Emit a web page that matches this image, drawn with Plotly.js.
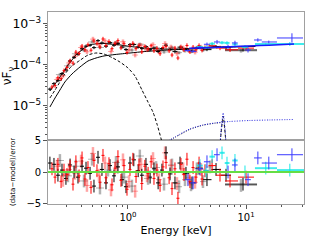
<!DOCTYPE html>
<html><head><meta charset="utf-8">
<script src="https://cdn.plot.ly/plotly-3.0.1.min.js"></script>
<style>html,body{margin:0;padding:0;background:#fff;}#c{width:320px;height:240px;}</style>
</head><body><div id="c"></div>
<script>
// ---------------- data ----------------
const energyRange = [0.21, 31];
const fluxRange = [1.48e-6, 1.96e-3];
const resRange = [-5, 5];
const xTickVals = [1, 10];
const xTickText = ['10<sup>0</sup>', '10<sup>1</sup>'];

// black spectrum
const blackE = [0.218,0.236,0.255,0.276,0.298,0.323,0.349,0.377,0.408,0.441,0.477,0.515,0.557,0.602,0.651,0.704,0.761,0.822,0.889,0.962,1.04,1.12,1.22,1.31,1.42,1.54,1.66,1.80,1.94,2.10,2.27,2.50,2.76,3.10,3.49,4.00,4.67,5.57,6.77];
const blackF = [2.58e-5,3.51e-5,4.14e-5,6.17e-5,7.56e-5,1.25e-4,1.54e-4,1.83e-4,2.49e-4,2.88e-4,3.03e-4,2.65e-4,3.92e-4,3.45e-4,2.87e-4,3.51e-4,3.02e-4,3.31e-4,2.73e-4,2.37e-4,3.15e-4,3.17e-4,2.75e-4,2.51e-4,2.81e-4,2.36e-4,2.59e-4,2.13e-4,2.51e-4,3.04e-4,2.39e-4,2.12e-4,2.72e-4,2.41e-4,2.19e-4,2.70e-4,2.37e-4,2.80e-4,2.64e-4];
const blackRes = [1.4,1.2,-0.5,0.3,-1.0,1.1,0.0,-0.8,0.9,0.6,-0.2,-2.2,2.3,0.4,-1.7,1.0,-0.6,0.8,-1.2,-2.3,1.4,1.9,0.2,-0.5,1.2,-0.8,0.5,-1.7,0.3,3.0,-0.3,-1.7,1.4,-0.2,-1.7,0.6,-1.2,0.4,-0.5];
const blackRelErr = 0.09;
const blackWideE = [9.43], blackWideLo = [6.64], blackWideHi = [12.4], blackWideF = [2.32e-4], blackWideRes = [-1.9];

// red spectrum
const redE = [0.227,0.241,0.255,0.271,0.287,0.304,0.323,0.342,0.362,0.385,0.408,0.432,0.458,0.486,0.515,0.546,0.579,0.614,0.651,0.690,0.732,0.776,0.822,0.872,0.925,0.981,1.04,1.10,1.17,1.24,1.31,1.39,1.48,1.57,1.66,1.76,1.87,1.98,2.10,2.23,2.36,2.50,2.65,2.81,2.98,3.16,3.35,3.56,3.77,4.00,4.24,4.49,5.16,6.02,7.32,10.0];
const redF = [2.90e-5,3.14e-5,4.88e-5,4.63e-5,7.25e-5,8.70e-5,1.26e-4,1.11e-4,2.06e-4,1.91e-4,2.88e-4,2.35e-4,3.12e-4,2.29e-4,3.85e-4,3.37e-4,2.75e-4,4.30e-4,2.99e-4,3.74e-4,2.50e-4,3.37e-4,3.93e-4,2.61e-4,3.30e-4,2.02e-4,2.95e-4,3.38e-4,2.51e-4,3.02e-4,2.09e-4,2.82e-4,2.47e-4,2.94e-4,2.22e-4,2.54e-4,1.88e-4,2.67e-4,2.85e-4,2.21e-4,1.75e-4,2.58e-4,1.48e-4,2.77e-4,2.34e-4,2.99e-4,2.10e-4,2.72e-4,2.33e-4,2.98e-4,2.29e-4,2.66e-4,2.95e-4,2.60e-4,2.35e-4,2.58e-4];
const redRes = [0.5,-0.8,1.2,-1.5,0.3,-0.4,0.9,-1.9,1.6,-0.6,2.2,-1.1,0.7,-2.4,1.8,0.2,-1.6,2.6,-0.9,1.3,-2.0,0.6,2.4,-1.3,1.0,-2.7,0.4,2.0,-0.7,1.1,-1.8,0.9,-0.2,1.6,-1.0,0.3,-2.1,0.8,1.5,-0.9,-2.6,0.5,-4.1,1.2,-0.4,2.0,-1.5,0.7,-0.8,1.4,-1.1,0.2,1.0,-0.5,-1.4,-0.8];
const redRelErr = 0.13;

// light red spectrum
const pinkE = [0.250,0.281,0.316,0.356,0.400,0.449,0.505,0.568,0.638,0.718,0.807,0.907,1.02,1.15,1.29,1.45,1.63,1.83,2.06,2.31,2.60,2.93,3.29,3.70,4.15];
const pinkF = [4.43e-5,5.48e-5,1.12e-4,1.62e-4,2.67e-4,2.10e-4,4.27e-4,3.12e-4,3.90e-4,2.14e-4,3.42e-4,3.68e-4,2.34e-4,1.75e-4,3.01e-4,2.35e-4,3.12e-4,2.10e-4,3.33e-4,2.74e-4,1.92e-4,2.60e-4,2.23e-4,2.06e-4,2.72e-4];
const pinkRes = [0.9,-1.3,0.4,-0.2,1.7,-2.1,2.9,-0.5,1.4,-2.8,0.8,1.9,-1.5,-3.0,1.2,-0.6,2.1,-1.2,3.0,1.0,-1.8,0.5,-0.9,-1.6,0.4];
const pinkRelErr = 0.14;

// grey spectrum
const greyE = [0.265,0.310,0.362,0.424,0.496,0.579,0.677,0.791,0.925,1.08,1.26,1.48,1.73,2.02,2.36,2.71,3.04,3.42,3.84,4.32,4.95];
const greyF = [5.83e-5,9.52e-5,1.88e-4,2.27e-4,3.64e-4,2.67e-4,3.38e-4,3.52e-4,2.78e-4,2.31e-4,3.20e-4,2.33e-4,2.62e-4,2.08e-4,2.67e-4,2.00e-4,2.21e-4,2.12e-4,2.66e-4,2.29e-4,2.81e-4];
const greyRes = [1.8,-0.6,0.9,-1.4,2.0,-2.5,0.3,1.5,-0.8,-2.2,2.5,-1.0,0.7,-1.9,1.1,-2.3,-1.2,-2.0,0.5,-1.5,0.8];
const greyRelErr = 0.1;
const greyWideE = [9.07], greyWideLo = [6.64], greyWideHi = [12.4], greyWideF = [2.2e-4], greyWideRes = [-2.1];

// blue spectrum
const blueE  = [3.22,3.56,4.07,4.67,5.68,7.04,8.06,10.4,12.6,15.6,24.5];
const blueLo = [3.02,3.37,3.80,4.40,5.35,6.64,7.60,9.80,11.7,13.6,18.3];
const blueHi = [3.40,3.80,4.35,4.95,6.00,7.40,8.50,11.0,13.6,18.3,30.4];
const blueF  = [2.25e-4,2.15e-4,2.65e-4,3.2e-4,3.64e-4,2.8e-4,3.45e-4,2.32e-4,4.07e-4,3.64e-4,4.56e-4];
const blueRelErr = [0.08,0.08,0.1,0.1,0.12,0.12,0.13,0.15,0.1,0.08,0.3];
const blueRes = [-1.2,-1.7,0.5,1.6,2.7,0.0,1.1,-1.2,2.2,1.4,2.7];

// cyan spectrum
const cyanE  = [4.07,4.58,5.16,6.26,6.90,8.06,9.80,14.7,23.5];
const cyanLo = [3.85,4.35,4.90,5.95,6.60,7.65,9.2,11.9,18.3];
const cyanHi = [4.30,4.85,5.45,6.60,7.25,8.50,10.4,18.3,31];
const cyanF  = [2.75e-4,2.65e-4,3.3e-4,3.5e-4,3.45e-4,3.2e-4,2.75e-4,3.25e-4,3.25e-4];
const cyanRelErr = [0.08,0.08,0.1,0.1,0.1,0.1,0.12,0.05,0.12];
const cyanRes = [1.0,0.2,2.4,3.0,1.4,1.8,0.0,0.6,0.3];

// model curves
const totalE = [0.218,0.227,0.241,0.255,0.276,0.292,0.310,0.335,0.356,0.377,0.408,0.432,0.477,0.525,0.579,0.638,0.704,0.776,0.855,1.04,1.26,1.54,1.87,2.50,3.35,4.49,6.02,8.90,12.0];
const totalF = [2.32e-5,2.75e-5,3.44e-5,4.31e-5,6.03e-5,7.55e-5,1.0e-4,1.32e-4,1.66e-4,1.96e-4,2.32e-4,2.67e-4,3.08e-4,3.25e-4,3.34e-4,3.34e-4,3.25e-4,3.16e-4,3.08e-4,2.83e-4,2.67e-4,2.52e-4,2.45e-4,2.45e-4,2.52e-4,2.60e-4,2.75e-4,2.83e-4,2.88e-4];
const plE = [0.218,0.241,0.265,0.292,0.335,0.392,0.458,0.536,0.626,0.776,1.04,1.39,1.87,2.76,4.07,6.02,9.0,12.0];
const plF = [9.46e-6,1.57e-5,2.45e-5,3.85e-5,6.03e-5,8.94e-5,1.25e-4,1.48e-4,1.66e-4,1.80e-4,1.96e-4,2.13e-4,2.26e-4,2.39e-4,2.52e-4,2.67e-4,2.78e-4,2.85e-4];
const bbE = [0.218,0.241,0.265,0.292,0.335,0.392,0.458,0.536,0.626,0.732,0.855,1.0,1.146,1.314,1.477,1.628,1.76,1.90,1.95];
const bbF = [1.57e-5,2.45e-5,3.85e-5,6.03e-5,9.46e-5,1.30e-4,1.75e-4,1.96e-4,1.85e-4,1.52e-4,1.18e-4,8.45e-5,5.39e-5,2.45e-5,1.25e-5,7.1e-6,3.64e-6,1.66e-6,1.2e-6];
const reflE = [2.2,2.76,3.35,4.32,5.46,7.32,10.8,16,25];
const reflF = [1.4e-6,2.07e-6,2.75e-6,3.44e-6,3.85e-6,4.19e-6,4.43e-6,4.56e-6,4.68e-6];
const reflBlackE = [2.2,2.76,3.35,4.32,5.46,6.6];
const reflBlackF = [1.4e-6,2.0e-6,2.7e-6,3.4e-6,3.8e-6,4.0e-6];
const lineE = [6.0,6.15,6.3,6.4,6.5,6.65,6.8];
const lineBlackF = [1.0e-6,2.2e-6,4.2e-6,5.7e-6,4.2e-6,2.2e-6,1.0e-6];
const lineBlueF = [1.0e-6,2.6e-6,5.0e-6,6.8e-6,5.0e-6,2.6e-6,1.0e-6];
const blueModelE = [3.3,4.5,6.0,8.9,13,19,25.5];
const blueModelF = [2.55e-4,2.62e-4,2.72e-4,2.85e-4,2.98e-4,3.12e-4,3.25e-4];
const zeroRes = [0, 0];

// ---------------- helpers ----------------
function neighbourBins(E) {
  const lo = [], hi = [];
  for (let i = 0; i < E.length; i++) {
    const prev = i > 0 ? E[i-1] : E[i]*E[i]/E[i+1];
    const next = i < E.length-1 ? E[i+1] : E[i]*E[i]/E[i-1];
    lo.push(E[i] - Math.sqrt(prev*E[i]));
    hi.push(Math.sqrt(E[i]*next) - E[i]);
  }
  return {lo, hi};
}
function edgesToErr(E, lo, hi) {
  return {lo: E.map((e,i)=>e-lo[i]), hi: E.map((e,i)=>hi[i]-e)};
}
const traces = [];
function dataPair(E, F, relErr, res, xe, color, thick, xthick) {
  const rel = Array.isArray(relErr) ? relErr : E.map(()=>relErr);
  traces.push({type:'scatter', mode:'none', x:E, y:F, xaxis:'x2', yaxis:'y',
    error_x:{type:'data', symmetric:false, array:xe.hi, arrayminus:xe.lo, color:color, thickness:xthick, width:0},
    error_y:{type:'data', symmetric:false, array:F.map((f,i)=>f*rel[i]), arrayminus:F.map((f,i)=>f*rel[i]/(1+rel[i])), color:color, thickness:thick, width:0},
    hoverinfo:'skip'});
  traces.push({type:'scatter', mode:'none', x:E, y:res, xaxis:'x', yaxis:'y2',
    error_x:{type:'data', symmetric:false, array:xe.hi, arrayminus:xe.lo, color:color, thickness:xthick, width:0},
    error_y:{type:'data', array:res.map(()=>1), color:color, thickness:thick, width:0},
    hoverinfo:'skip'});
}
function model(E, F, color, dash, w) {
  traces.push({type:'scatter', mode:'lines', x:E, y:F, xaxis:'x2', yaxis:'y',
    line:{color:color, dash:dash, width:w, shape:'spline', smoothing:0.6}, hoverinfo:'skip'});
}

// models
model(bbE, bbF, '#000', '3px,2px', 1);
model(plE, plF, '#000', 'solid', 1);
model(reflBlackE, reflBlackF, '#333', '1px,1.5px', 1);
model(reflE, reflF, '#2222dd', '1px,1.5px', 1);
model(lineE, lineBlackF, '#000', '3px,2px', 1);
model(lineE, lineBlueF, '#2222dd', '1px,1.5px', 1);
model(totalE, totalF, '#000', 'solid', 1);

// data
const gb = neighbourBins(greyE), gw = edgesToErr(greyWideE, greyWideLo, greyWideHi);
dataPair(greyE.concat(greyWideE), greyF.concat(greyWideF), greyRelErr, greyRes.concat(greyWideRes),
  {lo: gb.lo.concat(gw.lo), hi: gb.hi.concat(gw.hi)}, 'rgba(0,0,0,0.3)', 2.5, 1);
dataPair(pinkE, pinkF, pinkRelErr, pinkRes, neighbourBins(pinkE), 'rgba(255,0,0,0.35)', 2.5, 1);
const bb = neighbourBins(blackE), bw = edgesToErr(blackWideE, blackWideLo, blackWideHi);
dataPair(blackE.concat(blackWideE), blackF.concat(blackWideF), blackRelErr, blackRes.concat(blackWideRes),
  {lo: bb.lo.concat(bw.lo), hi: bb.hi.concat(bw.hi)}, '#000', 1, 1);
dataPair(redE, redF, redRelErr, redRes, neighbourBins(redE), '#ff0000', 1, 1);
dataPair(cyanE, cyanF, cyanRelErr, cyanRes, edgesToErr(cyanE, cyanLo, cyanHi), 'rgba(0,230,230,0.75)', 1.2, 2);
dataPair(blueE, blueF, blueRelErr, blueRes, edgesToErr(blueE, blueLo, blueHi), '#3a3aff', 1, 1);
model(blueModelE, blueModelF, '#1a1aff', 'solid', 1.5);

// zero line of the residual panel
traces.push({type:'scatter', mode:'lines', x:energyRange, y:zeroRes, xaxis:'x', yaxis:'y2',
  line:{color:'#66dd44', width:2}, hoverinfo:'skip'});

const axisLine = '#a0a0a0';
const common = {showline:true, linecolor:axisLine, linewidth:1.3, mirror:true, showgrid:false, zeroline:false,
  tickcolor:'#555', ticks:'outside', ticklen:3.5, tickwidth:1, tickfont:{family:'DejaVu Sans', size:10, color:'#000'}};
const logR = energyRange.map(Math.log10);
const layout = {
  width:320, height:240, margin:{l:48, r:16, t:12, b:36, pad:0},
  paper_bgcolor:'#fff', plot_bgcolor:'#fff', showlegend:false,
  font:{family:'DejaVu Sans', size:10, color:'#000'},
  xaxis: Object.assign({}, common, {type:'log', range:logR, anchor:'y2', domain:[0,1],
    tickmode:'array', tickvals:xTickVals, ticktext:xTickText,
    minor:{ticks:'outside', ticklen:2, dtick:'D1', tickcolor:'#555', showgrid:false},
    title:{text:'Energy [keV]', font:{family:'DejaVu Sans', size:11, color:'#000'}, standoff:4}}),
  xaxis2: Object.assign({}, common, {type:'log', range:logR, anchor:'y', domain:[0,1], matches:'x',
    showticklabels:false, ticks:''}),
  yaxis: Object.assign({}, common, {type:'log', range:fluxRange.map(Math.log10), anchor:'x2', domain:[0.3333,1],
    dtick:1, exponentformat:'power',
    minor:{ticks:'outside', ticklen:2, dtick:'D1', tickcolor:'#555', showgrid:false},
    title:{text:'νF<sub>ν</sub>', font:{family:'DejaVu Sans', size:12, color:'#000'}, standoff:6}}),
  yaxis2: Object.assign({}, common, {range:resRange, anchor:'x', domain:[0,0.3333], dtick:5,
    title:{text:'(data−model)/error', font:{family:'DejaVu Sans', size:7, color:'#000'}, standoff:10}})
};
Plotly.newPlot('c', traces, layout, {staticPlot:true, displayModeBar:false});
</script>
</body></html>
